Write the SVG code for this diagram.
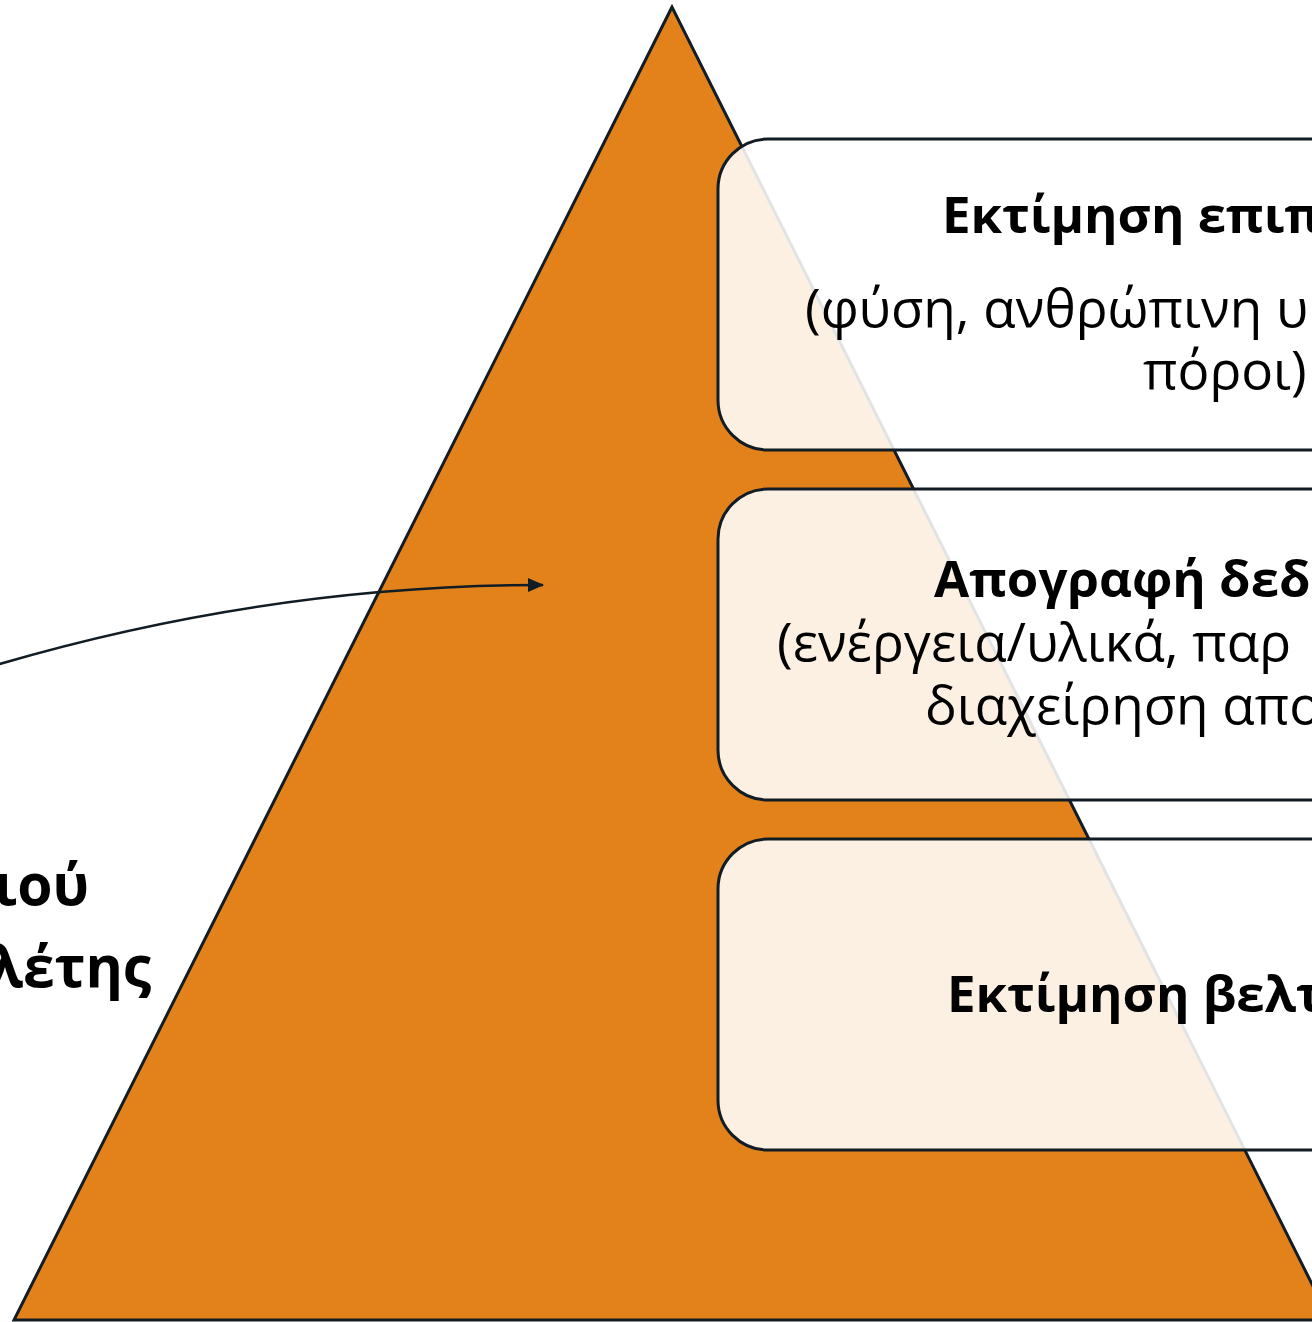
<svg xmlns="http://www.w3.org/2000/svg" width="1312" height="1322" viewBox="0 0 1312 1322">
  <defs>
    <style>
      .pyramid { fill: #E3821A; stroke: #111C24; stroke-width: 3; stroke-linejoin: miter; }
      .box { fill: #FFFFFF; fill-opacity: 0.88; stroke: #111C24; stroke-width: 3; }
      .t { font-family: "Open Sans", "Noto Sans", "DejaVu Sans", sans-serif; fill: #000000; }
      .b { font-weight: 700; font-size: 51px; }
      .r { font-weight: 400; font-size: 53px; }
      .side { font-weight: 700; font-size: 57px; }
      .link { fill: none; stroke: #111C24; stroke-width: 2.5; }
    </style>
    <marker id="arrow" markerWidth="16" markerHeight="14" refX="15" refY="7" orient="auto" markerUnits="userSpaceOnUse">
      <path d="M0 0 L16 7 L0 14 Z" fill="#111C24"/>
    </marker>
  </defs>

  <rect width="1312" height="1322" fill="#FFFFFF"/>

  <!-- pyramid background -->
  <g id="pyramid">
    <path class="pyramid" d="M672 7 L14 1320 L1330 1320 Z"/>
  </g>

  <!-- side label -->
  <g id="side-label">
    <text class="t side" x="-6" y="905">ιού</text>
    <text class="t side" x="-12" y="987">λέτης</text>
  </g>

  <!-- connectors -->
  <g id="connectors">
    <path class="link" d="M-40 676 Q250 585 543 585" marker-end="url(#arrow)"/>
  </g>

  <!-- stage boxes -->
  <g id="stage-impact">
    <rect class="box" x="718" y="139" width="720" height="311" rx="50" ry="50"/>
    <text class="t b" x="942" y="233">Εκτίμηση επιπ</text>
    <text class="t r" x="805" y="327">(φύση, ανθρώπινη υ</text>
    <text class="t r" x="1143" y="389">πόροι)</text>
  </g>

  <g id="stage-inventory">
    <rect class="box" x="718" y="489" width="720" height="311" rx="50" ry="50"/>
    <text class="t b" x="934" y="597">Απογραφή δεδ</text>
    <text class="t r" x="777" y="661">(ενέργεια/υλικά, παρ</text>
    <text class="t r" x="925" y="724">διαχείρηση απο</text>
  </g>

  <g id="stage-improvement">
    <rect class="box" x="718" y="839" width="720" height="311" rx="50" ry="50"/>
    <text class="t b" x="947" y="1012">Εκτίμηση βελτ</text>
  </g>
</svg>
